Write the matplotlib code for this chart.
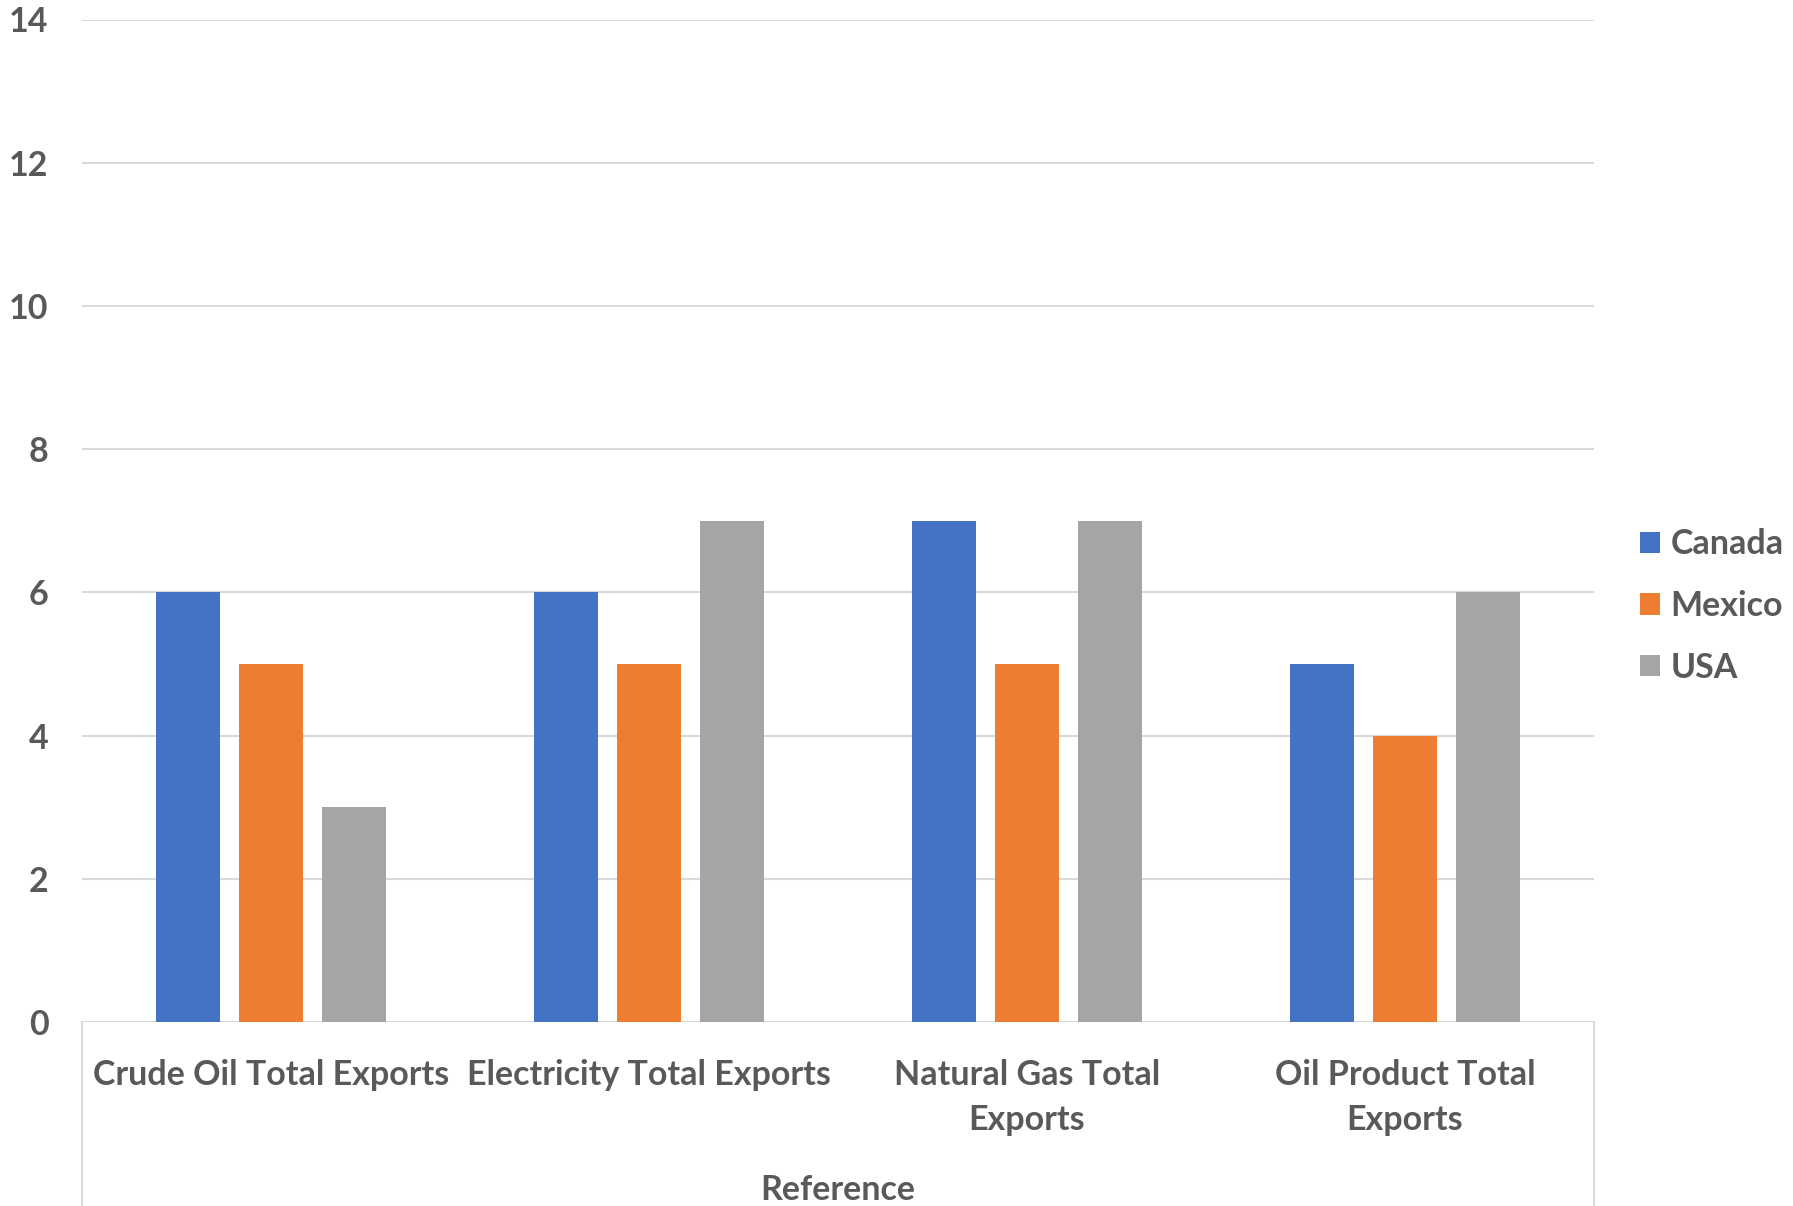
import matplotlib.pyplot as plt
from matplotlib.patches import Patch
import numpy as np

categories = ["Crude Oil Total Exports", "Electricity Total Exports",
              "Natural Gas Total\nExports", "Oil Product Total\nExports"]
series_names = ["Canada", "Mexico", "USA"]
canada = [6, 6, 7, 5]
mexico = [5, 5, 5, 4]
usa = [3, 7, 7, 6]
y_ticks = [0, 2, 4, 6, 8, 10, 12, 14]
axis_title = "Reference"

colors = ["#4472C4", "#ED7D31", "#A5A5A5"]
text_color = "#595959"
grid_color = "#D9D9D9"
fs = 24.5

plt.rcParams['font.family'] = ['Lato', 'DejaVu Sans']
plt.rcParams['font.weight'] = 'bold'

W, H = 1793, 1206
fig = plt.figure(figsize=(W / 100, H / 100), dpi=100)
left, right, top, bottom = 82, 1594, 19.5, 1022
ax = fig.add_axes([left / W, (H - bottom) / H, (right - left) / W, (bottom - top) / H])

x = np.arange(len(categories))
bar_w = 0.17
step = 0.22
for i, (vals, name) in enumerate(zip([canada, mexico, usa], series_names)):
    ax.bar(x + (i - 1) * step, vals, width=bar_w, color=colors[i], label=name, zorder=3)

ax.set_xlim(-0.5, len(categories) - 0.5)
ax.set_ylim(0, 14)
ax.set_yticks(y_ticks)
ax.set_yticklabels([str(t) for t in y_ticks], fontsize=fs, color=text_color, fontweight='bold')
ax.yaxis.grid(True, color=grid_color, linewidth=1.5, zorder=0)
ax.set_axisbelow(True)
for s in ax.spines.values():
    s.set_visible(False)
ax.tick_params(axis='y', length=0, pad=24)

ax.set_xticks(x)
ax.set_xticklabels(categories, fontsize=fs, color=text_color, fontweight='bold', linespacing=1.5)
ax.tick_params(axis='x', length=0, pad=26.5)

# group divider lines below the category axis
for xv in [-0.5, len(categories) - 0.5]:
    ax.plot([xv, xv], [0, -3], color=grid_color, linewidth=1.5, clip_on=False)

ax.text(0.5, (1190.5 - bottom) / -(bottom - top), axis_title, transform=ax.transAxes,
        ha='center', va='center', fontsize=fs, color=text_color, fontweight='bold')

handles = [Patch(facecolor=c, label=n) for c, n in zip(colors, series_names)]
leg = fig.legend(handles=handles, loc='center left', bbox_to_anchor=(1640 / W, 1 - 606 / H),
                 frameon=False, fontsize=fs, handlelength=0.6, handleheight=0.6,
                 handletextpad=0.3, labelspacing=0.87, borderpad=0, borderaxespad=0)
for t in leg.get_texts():
    t.set_color(text_color)
    t.set_fontweight('bold')

fig.savefig("out.png", dpi=100)
